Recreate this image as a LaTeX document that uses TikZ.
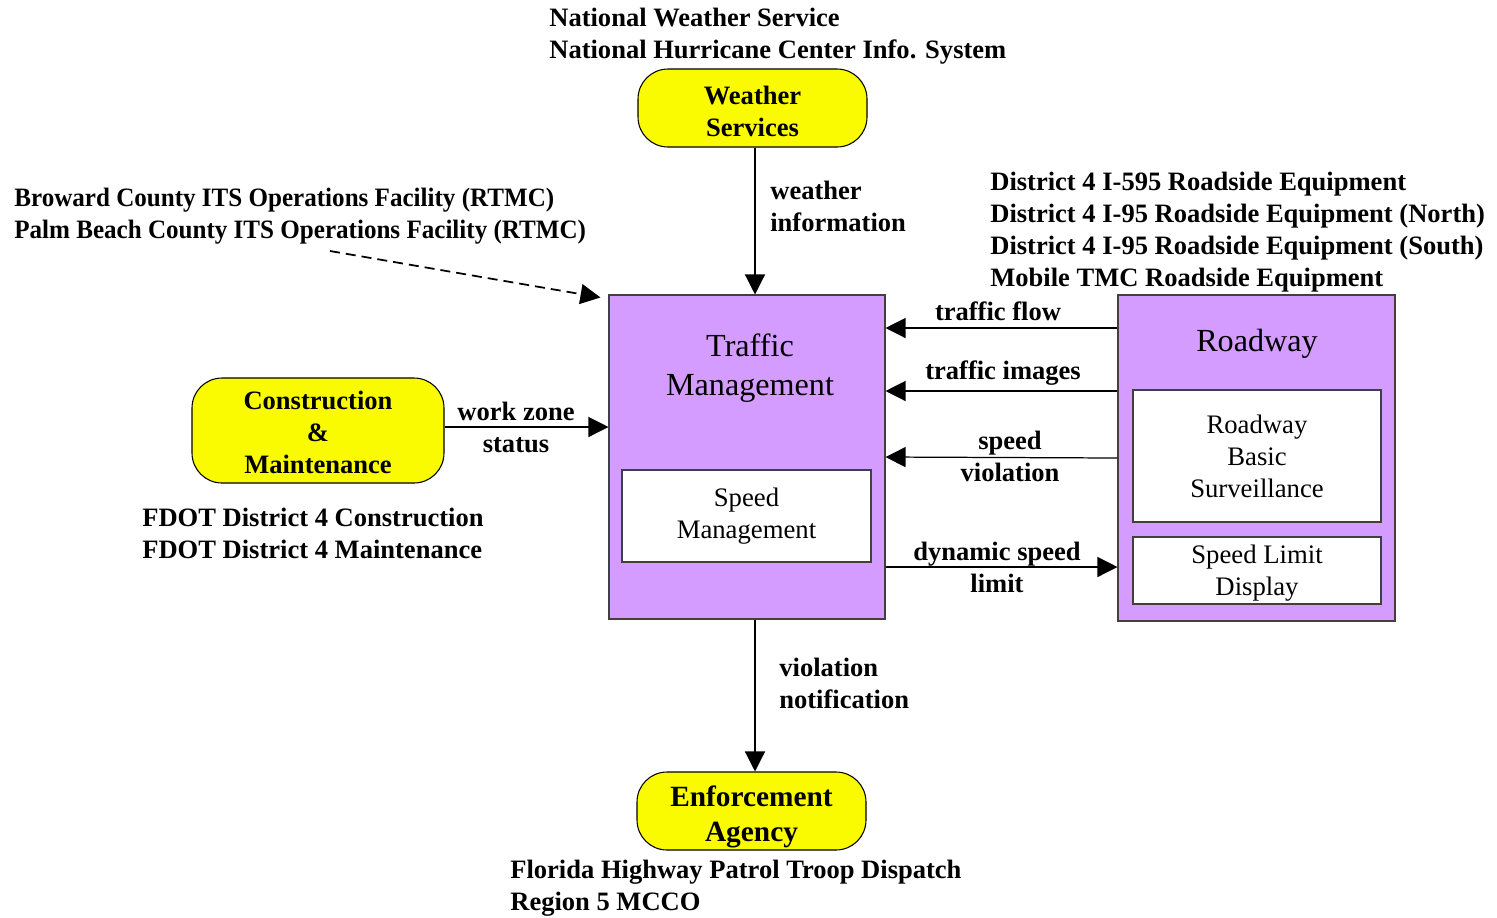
\documentclass[tikz,border=0pt]{standalone}
\usepackage{fontspec}
\setmainfont{Liberation Serif}
\newfontfamily\narrowserif[FakeStretch=0.945]{Liberation Serif}
\usepackage{tikz}
\usetikzlibrary{positioning,arrows.meta,calc}
\definecolor{SysPurple}{HTML}{D49CFF}
\definecolor{TermYellow}{HTML}{FAFA00}
\definecolor{EdgeGray}{HTML}{404040}
\newcommand{\lblfont}{\fontsize{15.1}{18.2}\selectfont\bfseries}
\newcommand{\boxfont}{\fontsize{15.2}{18.2}\selectfont}
\newcommand{\titlefont}{\fontsize{18.3}{22}\selectfont}
\newcommand{\enffont}{\fontsize{16.7}{19.4}\selectfont\bfseries}

\begin{document}
\begin{tikzpicture}[
  x=0.2mm, y=-0.2mm,
  sysbox/.style={draw=EdgeGray, fill=SysPurple, line width=0.6pt, inner sep=0pt},
  subbox/.style={draw=EdgeGray, fill=white, line width=0.6pt, align=center, font=\boxfont, inner sep=0pt},
  term/.style={draw=black, fill=TermYellow, line width=0.6pt, rounded corners=6mm, align=center, font=\lblfont, inner sep=0pt, text depth=0pt},
  lbl/.style={align=left, font=\lblfont, inner sep=0pt, anchor=west},
  flowlbl/.style={align=center, font=\lblfont, inner sep=0pt},
  arrow/.style={-{Triangle[length=4mm,width=4mm]}, line width=0.7pt},
]
\useasboundingbox (0,0) rectangle (1497,917);
% subsystems
\node[sysbox, minimum width=55.2mm, minimum height=64.8mm] (tm) at (747,457) {};
\node[font=\titlefont, align=center, inner sep=0pt] (tmtitle) at (750,368) {Traffic\\Management};
\node[subbox, minimum width=49.8mm, minimum height=18.4mm] (spm) at (746.5,516) {Speed\\Management};
\node[sysbox, minimum width=55.4mm, minimum height=65.2mm] (road) at (1256.5,458) {};
\node[font=\titlefont, inner sep=0pt] (roadtitle) at (1257,344) {Roadway};
\node[subbox, minimum width=49.6mm, minimum height=26.4mm] (rbs) at (1257,456) {Roadway\\Basic\\Surveillance};
\node[subbox, minimum width=49.6mm, minimum height=13.4mm, text depth=0mm] (sld) at (1257,570.5) {Speed Limit\\Display};
% terminators
\node[term, minimum width=45.8mm, minimum height=15.6mm, text height=11.2mm] (wx) at (752.5,108) {Weather\\Services};
\node[term, minimum width=50.4mm, minimum height=21mm, text height=17.2mm] (cm) at (318,430.5) {Construction\\\&\\Maintenance};
\node[term, minimum width=45.8mm, minimum height=15.6mm, font=\enffont, text height=12mm] (enf) at (751.5,811) {Enforcement\\Agency};
% element names
\node[lbl] (wxnames) at (549,36) {National Weather Service\\National Hurricane Center Info. System};
\node[lbl, font=\lblfont\narrowserif] (rtmc) at (14,216) {Broward County ITS Operations Facility (RTMC)\\Palm Beach County ITS Operations Facility (RTMC)};
\node[lbl] (rsenames) at (990,232) {District 4 I-595 Roadside Equipment\\District 4 I-95 Roadside Equipment (North)\\District 4 I-95 Roadside Equipment (South)\\Mobile TMC Roadside Equipment};
\node[lbl] (fdot) at (142,533) {FDOT District 4 Construction\\FDOT District 4 Maintenance};
\node[lbl] (fhp) at (510,888) {Florida Highway Patrol Troop Dispatch\\Region 5 MCCO};
% flows
\draw[arrow] (wx.south -| 755,0) -- (tm.north -| 755,0);
\node[lbl] (wxinfo) at (770,206) {weather\\information};
\coordinate (dstart) at (330,251);
\draw[arrow, line width=1pt, dash pattern=on 2mm off 1.2mm] (dstart) -- ($(tm.north west)+(-8,3)$);
\draw[arrow] (cm.east |- 0,427) -- (tm.west |- 0,427);
\node[flowlbl] (wzs) at (516,427) {work zone\\status};
\draw[arrow] (road.west |- 0,328) -- (tm.east |- 0,328);
\node[flowlbl] (tflow) at (998,311) {traffic flow};
\draw[arrow] (road.west |- 0,391) -- (tm.east |- 0,391);
\node[flowlbl] (timg) at (1003,373) {traffic images};
\draw[arrow] (road.west |- 0,458) -- (tm.east |- 0,457);
\node[flowlbl] (spv) at (1010,456) {speed\\violation};
\draw[arrow] (tm.east |- 0,567) -- (road.west |- 0,567);
\node[flowlbl] (dsl) at (997,567) {dynamic speed\\limit};
\draw[arrow] (tm.south -| 755,0) -- (enf.north -| 755,0);
\node[lbl] (vnote) at (779,683) {violation\\notification};
\end{tikzpicture}
\end{document}
